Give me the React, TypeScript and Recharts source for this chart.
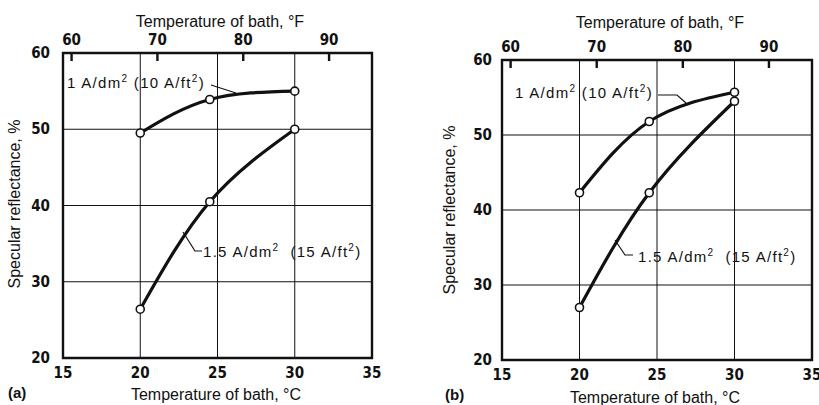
import { LineChart, Line, XAxis, YAxis, CartesianGrid, ReferenceArea } from 'recharts';

// bath temperature (°C) of the measured points
const bathC = [20, 24.5, 30];
// panel (a)
const a_1A = [49.5, 53.9, 55];
const a_15A = [26.4, 40.5, 50];
// panel (b)
const b_1A = [42.3, 51.8, 55.7];
const b_15A = [27, 42.3, 54.5];

const cTicks = [15, 20, 25, 30, 35];
const fTicks = [60, 70, 80, 90];
const reflTicks = [20, 30, 40, 50, 60];

const toF = (c: number) => (c * 9) / 5 + 32;

const INK = '#111';
const TICK_FONT = "'Liberation Sans Narrow', 'DejaVu Sans Condensed', 'Arial Narrow', sans-serif";
const TEXT_FONT = "'Liberation Sans', Arial, sans-serif";

const BottomTick = ({ x, y, payload }: any) => (
  <text x={x} y={y + 20} textAnchor="middle" fontFamily={TICK_FONT} fontWeight="bold" fontSize={15} fill={INK}>
    {payload.value}
  </text>
);

// with tickSize -8 the text anchor sits 8px inside the frame
const TopTick = ({ x, y, payload }: any) => (
  <text x={x} y={y - 16} textAnchor="middle" fontFamily={TICK_FONT} fontWeight="bold" fontSize={15} fill={INK}>
    {payload.value}
  </text>
);

const makeLeftTick = (gap: number) => ({ x, y, payload }: any) => (
  <text x={x - gap} y={y + 5} textAnchor="end" fontFamily={TICK_FONT} fontWeight="bold" fontSize={15} fill={INK}>
    {payload.value}
  </text>
);

interface PanelProps {
  s1: number[];
  s15: number[];
  left: number;
  width: number;
  topH: number;
  bottomH: number;
  yW: number;
  rightM: number;
  tickGap: number;
}

function Panel({ s1, s15, left, width, topH, bottomH, yW, rightM, tickGap }: PanelProps) {
  const rows = bathC.map((c, i) => ({ c, f: toF(c), a: s1[i], b: s15[i] }));
  const dot = { r: 4, fill: '#fff', stroke: INK, strokeWidth: 1.6 };
  return (
    <div style={{ position: 'absolute', left, top: 0 }}>
      <LineChart width={width} height={405} data={rows} margin={{ top: 0, right: rightM, bottom: 0, left: 0 }}>
        <CartesianGrid stroke={INK} strokeWidth={1} />
        <XAxis
          dataKey="c"
          type="number"
          domain={[15, 35]}
          ticks={cTicks}
          height={bottomH}
          axisLine={false}
          tickLine={false}
          tickSize={0}
          tickMargin={0}
          tick={<BottomTick />}
          interval={0}
        />
        <XAxis
          xAxisId="f"
          dataKey="f"
          orientation="top"
          type="number"
          domain={[toF(15), toF(35)]}
          allowDataOverflow
          ticks={fTicks}
          height={topH}
          axisLine={false}
          tickLine={{ stroke: INK, strokeWidth: 2.4 }}
          tickSize={-8}
          tickMargin={0}
          tick={<TopTick />}
          interval={0}
        />
        <YAxis
          type="number"
          domain={[20, 60]}
          ticks={reflTicks}
          width={yW}
          axisLine={false}
          tickLine={false}
          tickSize={0}
          tickMargin={0}
          tick={makeLeftTick(tickGap)}
          interval={0}
        />
        <ReferenceArea x1={15} x2={35} y1={20} y2={60} fill="none" stroke={INK} strokeWidth={2.4} />
        {/* invisible series that ties the °F axis to the data */}
        <Line xAxisId="f" dataKey="a" stroke="none" dot={false} activeDot={false} isAnimationActive={false} />
        <Line type="natural" dataKey="a" stroke={INK} strokeWidth={3.2} dot={dot} isAnimationActive={false} />
        <Line type="natural" dataKey="b" stroke={INK} strokeWidth={3.2} dot={dot} isAnimationActive={false} />
      </LineChart>
    </div>
  );
}

const Sup = ({ children }: any) => (
  <tspan dy={-6} fontSize={10}>
    {children}
  </tspan>
);

function Ann({ x, y, head, tail }: { x: number; y: number; head: string; tail: string }) {
  return (
    <text x={x} y={y} fontFamily={TEXT_FONT} fontSize={15} letterSpacing={1.3} fill={INK} xmlSpace="preserve">
      {head}
      <Sup>2</Sup>
      <tspan dy={6}>{tail}</tspan>
      <Sup>2</Sup>
      <tspan dy={6}>)</tspan>
    </text>
  );
}

function Title({ x, y, text, rotate }: { x: number; y: number; text: string; rotate?: boolean }) {
  return (
    <text
      x={x}
      y={y}
      textAnchor="middle"
      fontFamily={TEXT_FONT}
      fontSize={16}
      fill={INK}
      transform={rotate ? `rotate(-90 ${x} ${y})` : undefined}
    >
      {text}
    </text>
  );
}

export default function App() {
  return (
    <div style={{ position: 'absolute', left: 0, top: 0, width: 819, height: 405, background: '#fff', overflow: 'hidden' }}>
      <Panel s1={a_1A} s15={a_15A} left={0} width={410} topH={53} bottomH={47} yW={63} rightM={38} tickGap={13} />
      <Panel s1={b_1A} s15={b_15A} left={410} width={409} topH={60} bottomH={45} yW={92} rightM={7} tickGap={10} />
      <svg width={819} height={405} style={{ position: 'absolute', left: 0, top: 0, pointerEvents: 'none' }}>
        {/* panel (a) */}
        <Title x={220} y={27} text="Temperature of bath, °F" />
        <Title x={216} y={400} text="Temperature of bath, °C" />
        <Title x={20} y={204} text="Specular reflectance, %" rotate />
        <text x={8} y={398} fontFamily={TEXT_FONT} fontSize={15} fontWeight="bold" fill={INK}>(a)</text>
        <Ann x={67} y={88} head="1 A/dm" tail=" (10 A/ft" />
        <polyline points="211,85 236,93" fill="none" stroke={INK} strokeWidth={1.2} />
        <Ann x={203} y={257} head="1.5 A/dm" tail="  (15 A/ft" />
        <polyline points="183,232 195,251 202,251" fill="none" stroke={INK} strokeWidth={1.2} />
        {/* panel (b) */}
        <Title x={660} y={28} text="Temperature of bath, °F" />
        <Title x={655} y={403} text="Temperature of bath, °C" />
        <Title x={455} y={210} text="Specular reflectance, %" rotate />
        <text x={445} y={400} fontFamily={TEXT_FONT} fontSize={15} fontWeight="bold" fill={INK}>(b)</text>
        <Ann x={515} y={98} head="1 A/dm" tail=" (10 A/ft" />
        <polyline points="658,95 677,95 686,103" fill="none" stroke={INK} strokeWidth={1.2} />
        <Ann x={638} y={262} head="1.5 A/dm" tail="  (15 A/ft" />
        <polyline points="615,240 625,255 633,255" fill="none" stroke={INK} strokeWidth={1.2} />
      </svg>
    </div>
  );
}
